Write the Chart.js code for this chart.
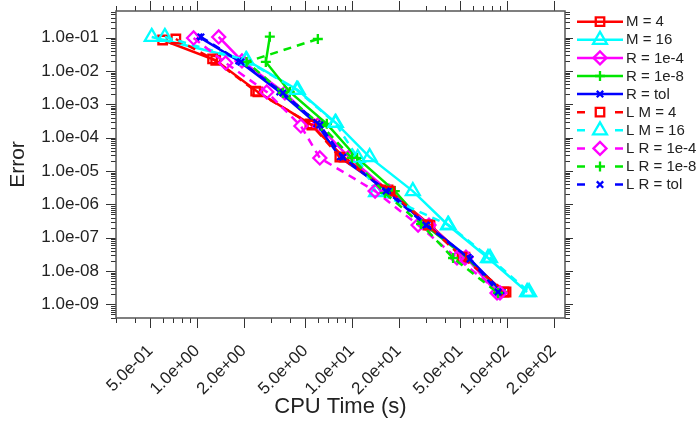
<!DOCTYPE html>
<html>
<head>
<meta charset="utf-8">
<script src="https://cdn.jsdelivr.net/npm/chart.js@4.4.0/dist/chart.umd.min.js"></script>
<style>
html,body{margin:0;padding:0;background:#fff;}
#wrap{width:699px;height:432px;}
</style>
</head>
<body>
<div id="wrap"><canvas id="chart"></canvas></div>
<script>
// CPU time (s) and error for each run
var m4Time = [0.60, 1.32, 2.47, 5.35, 8.87, 17.1, 31.9, 53.6, 95.8];
var m4Err = [8.5e-2, 2.1e-2, 2.35e-3, 2.6e-4, 2.6e-5, 2.7e-6, 2.4e-7, 2.6e-8, 2.35e-9];
var m16Time = [0.51, 2.09, 4.47, 7.87, 13.0, 24.7, 41.6, 75.5, 135];
var m16Err = [1.05e-1, 2.1e-2, 2.7e-3, 2.76e-4, 2.6e-5, 2.5e-6, 2.4e-7, 2.46e-8, 2.35e-9];
var r4Time = [1.38, 1.95, 3.69, 6.02, 9.55, 17.3, 31.4, 54.4, 86.3];
var r4Err = [1.05e-1, 2.0e-2, 2.19e-3, 2.4e-4, 2.6e-5, 2.5e-6, 2.4e-7, 2.6e-8, 2.2e-9];
var r8Time = [2.95, 2.78, 3.97, 6.88, 10.8, 18.9, 29.6, 54.4, 93.0];
var r8Err = [1.07e-1, 1.87e-2, 2.35e-3, 2.6e-4, 2.46e-5, 2.5e-6, 2.4e-7, 2.6e-8, 2.35e-9];
var rTolTime = [1.03, 1.86, 3.42, 5.93, 8.35, 17.1, 30.5, 56.1, 93.0];
var rTolErr = [1.05e-1, 2.0e-2, 2.35e-3, 2.6e-4, 2.6e-5, 2.5e-6, 2.4e-7, 2.6e-8, 2.35e-9];
var lm4Time = [0.73, 1.26, 2.39, 5.51, 8.35, 17.6, 30.9, 51.3, 98.7];
var lm4Err = [9.1e-2, 2.3e-2, 2.5e-3, 2.4e-4, 2.6e-5, 2.5e-6, 2.4e-7, 2.6e-8, 2.35e-9];
var lm16Time = [0.62, 2.07, 4.4, 7.8, 10.9, 14.3, 42.0, 77.8, 139];
var lm16Err = [1.05e-1, 2.1e-2, 2.7e-3, 2.76e-4, 2.46e-5, 2.35e-6, 2.4e-7, 2.46e-8, 2.35e-9];
var lr4Time = [0.95, 1.53, 2.82, 4.68, 6.20, 14.1, 26.7, 47.6, 90.2];
var lr4Err = [9.8e-2, 1.74e-2, 2.35e-3, 2.24e-4, 2.46e-5, 2.5e-6, 2.4e-7, 2.46e-8, 2.2e-9];
var lr8Time = [6.02, 2.09, 3.58, 6.39, 9.99, 16.3, 27.9, 44.9, 87.6];
var lr8Err = [9.1e-2, 1.87e-2, 2.19e-3, 2.24e-4, 2.46e-5, 2.2e-6, 2.58e-7, 2.46e-8, 2.2e-9];
var lrTolTime = [1.06, 1.92, 3.58, 6.2, 8.73, 16.6, 30.0, 57.8, 87.6];
var lrTolErr = [1.05e-1, 1.87e-2, 2.19e-3, 2.4e-4, 2.6e-5, 2.5e-6, 2.4e-7, 2.3e-8, 2.35e-9];

var seriesNames = ['M = 4', 'M = 16', 'R = 1e-4', 'R = 1e-8', 'R = tol',
	'L M = 4', 'L M = 16', 'L R = 1e-4', 'L R = 1e-8', 'L R = tol'];

// axis ticks
var xMajorTicks = [0.5, 1, 2, 5, 10, 20, 50, 100, 200];
var xMinorTicks = [0.3, 0.4, 0.6, 0.7, 0.8, 0.9, 3, 4, 6, 7, 8, 9, 30, 40, 60, 70, 80, 90];
var yMajorTicks = [1e-9, 1e-8, 1e-7, 1e-6, 1e-5, 1e-4, 1e-3, 1e-2, 1e-1];

var FONT = "'Liberation Sans', Arial, Helvetica, sans-serif";

var pts = function(t, e) {
	var list = [];
	for (var i = 0; i < t.length; i++) list.push({x: t[i], y: e[i]});
	return list;
};
var fmtExp = function(v) {
	var s = Number(v).toExponential(1).split('e');
	var sign = s[1].charAt(0);
	var n = s[1].slice(1);
	if (n.length < 2) n = '0' + n;
	return s[0] + 'e' + sign + n;
};

var styles = [
	{c: '#ff0000', p: 'rect', r: 6},
	{c: '#00ffff', p: 'triangle', r: 8},
	{c: '#ff00ff', p: 'rectRot', r: 6.5},
	{c: '#00e600', p: 'cross', r: 5},
	{c: '#0000ff', p: 'crossRot', r: 4.5}
];
var allData = [
	pts(m4Time, m4Err), pts(m16Time, m16Err), pts(r4Time, r4Err), pts(r8Time, r8Err), pts(rTolTime, rTolErr),
	pts(lm4Time, lm4Err), pts(lm16Time, lm16Err), pts(lr4Time, lr4Err), pts(lr8Time, lr8Err), pts(lrTolTime, lrTolErr)
];

var datasets = [];
for (var i = 0; i < allData.length; i++) {
	var st = styles[i % 5];
	datasets.push({
		label: seriesNames[i],
		data: allData[i],
		showLine: true,
		borderColor: st.c,
		backgroundColor: st.c,
		borderWidth: 2.5,
		borderDash: i >= 5 ? [8, 6] : [],
		pointStyle: st.p,
		pointRadius: st.r,
		pointHoverRadius: st.r,
		pointBorderWidth: 2.3,
		pointBorderColor: st.c,
		pointBackgroundColor: 'rgba(0,0,0,0)',
		tension: 0,
		order: 20 - i
	});
}

// box, tick marks on all four sides
var framePlugin = {
	id: 'frame',
	afterDraw: function(chart) {
		var ctx = chart.ctx, a = chart.chartArea;
		var xs = chart.scales.x, ys = chart.scales.y;
		ctx.save();
		ctx.strokeStyle = '#333';
		ctx.lineWidth = 1;
		var seg = function(x1, y1, x2, y2) {
			ctx.beginPath(); ctx.moveTo(x1, y1); ctx.lineTo(x2, y2); ctx.stroke();
		};
		var xt = function(v, len, len2) {
			var px = Math.round(xs.getPixelForValue(v)) + 0.5;
			seg(px, a.bottom, px, a.bottom + len);
			seg(px, a.top, px, a.top - len2);
		};
		var yt = function(v, len, len2) {
			var py = Math.round(ys.getPixelForValue(v)) + 0.5;
			if (py < a.top - 0.5 || py > a.bottom + 0.5) return;
			seg(a.left, py, a.left - len, py);
			seg(a.right, py, a.right + len2, py);
		};
		xMajorTicks.forEach(function(v) { xt(v, 10, 10); });
		xMinorTicks.forEach(function(v) { xt(v, 5, 5); });
		yMajorTicks.forEach(function(v) { yt(v, 10, 8); });
		for (var e = -10; e <= -1; e++) {
			for (var k = 2; k <= 9; k++) yt(k * Math.pow(10, e), 5, 5);
		}
		ctx.strokeStyle = '#555';
		ctx.lineWidth = 1.5;
		ctx.strokeRect(a.left, a.top, a.right - a.left, a.bottom - a.top);
		ctx.restore();
	}
};

// legend with line + marker samples
var legendPlugin = {
	id: 'sideLegend',
	afterDraw: function(chart) {
		var ctx = chart.ctx;
		ctx.save();
		for (var i = 0; i < chart.data.datasets.length; i++) {
			var ds = chart.data.datasets[i];
			var y = 21.7 + i * 18.1;
			ctx.strokeStyle = ds.borderColor;
			ctx.lineWidth = 2.5;
			ctx.setLineDash([]);
			ctx.beginPath();
			if (i < 5) {
				ctx.moveTo(577, y); ctx.lineTo(623, y);
			} else {
				ctx.moveTo(577, y); ctx.lineTo(585, y);
				ctx.moveTo(615, y); ctx.lineTo(623, y);
			}
			ctx.stroke();
			ctx.fillStyle = 'rgba(0,0,0,0)';
			ctx.lineWidth = 2.3;
			Chart.helpers.drawPoint(ctx, {pointStyle: ds.pointStyle, radius: ds.pointRadius, rotation: 0, borderWidth: 2.3}, 600, y);
			ctx.fillStyle = '#222';
			ctx.font = '15px ' + FONT;
			ctx.textAlign = 'left';
			ctx.textBaseline = 'middle';
			ctx.fillText(ds.label, 626, y + 0.5);
		}
		ctx.restore();
	}
};

var myChart = new Chart(document.getElementById('chart'), {
	type: 'scatter',
	data: {datasets: datasets},
	options: {
		responsive: true,
		maintainAspectRatio: false,
		animation: false,
		events: [],
		layout: {padding: {top: 11, right: 134, left: 0, bottom: 0}},
		plugins: {legend: {display: false}, tooltip: {enabled: false}},
		scales: {
			x: {
				type: 'logarithmic',
				min: 0.3,
				max: 237,
				afterBuildTicks: function(scale) {
					scale.ticks = xMajorTicks.map(function(v) { return {value: v}; });
				},
				afterFit: function(scale) {
					scale.height = 114;
					scale.paddingLeft = 0;
					scale.paddingRight = 0;
				},
				grid: {display: false, drawTicks: false},
				border: {display: false},
				ticks: {
					autoSkip: false,
					maxRotation: 45,
					minRotation: 45,
					padding: 23,
					color: '#222',
					font: {family: FONT, size: 17},
					callback: function(v) { return fmtExp(v); }
				},
				title: {
					display: true,
					text: 'CPU Time (s)',
					color: '#222',
					font: {family: FONT, size: 22},
					padding: {top: 4, bottom: 12}
				}
			},
			y: {
				type: 'logarithmic',
				min: 3.9e-10,
				max: 0.63,
				afterBuildTicks: function(scale) {
					scale.ticks = yMajorTicks.map(function(v) { return {value: v}; });
				},
				afterFit: function(scale) {
					scale.width = 116;
					scale.paddingTop = 0;
					scale.paddingBottom = 0;
				},
				grid: {display: false, drawTicks: false},
				border: {display: false},
				ticks: {
					autoSkip: false,
					padding: 17,
					color: '#222',
					font: {family: FONT, size: 17},
					callback: function(v) { return fmtExp(v); }
				},
				title: {
					display: true,
					text: 'Error',
					color: '#222',
					font: {family: FONT, size: 21},
					padding: {top: 6, bottom: 4}
				}
			}
		}
	},
	plugins: [framePlugin, legendPlugin]
});
</script>
</body>
</html>
